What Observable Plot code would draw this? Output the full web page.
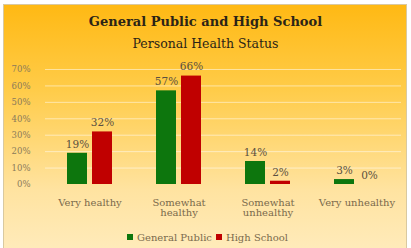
<!DOCTYPE html>
<html><head><meta charset="utf-8">
<script src="https://cdn.jsdelivr.net/npm/d3@7"></script>
<script src="https://cdn.jsdelivr.net/npm/@observablehq/plot@0.6"></script>
<style>
html,body{margin:0;padding:0;background:#fff;}
#wrap{position:relative;width:411px;height:248px;overflow:hidden;font-family:"DejaVu Serif",serif;}
#box{position:absolute;left:3px;top:4px;width:402px;height:246px;border:1px solid #d9c9a0;
 background:linear-gradient(to bottom,#ffb914 0%,#ffcc4a 35%,#ffe3a0 75%,#ffebbb 100%);}
#t1{position:absolute;left:0;width:411px;top:14px;text-align:center;font-weight:bold;font-size:13px;color:#2b2416;}
#t2{position:absolute;left:0;width:411px;top:36px;text-align:center;font-size:12.5px;color:#2b2416;}
#chart{position:absolute;left:0;top:55px;}
#legend{position:absolute;left:0;width:411px;top:232px;text-align:center;font-size:10px;color:#7a6a4c;}
#legend span.sw{display:inline-block;width:6px;height:6px;margin:0 4px 0 4px;vertical-align:1px;}
</style></head>
<body>
<div id="wrap">
 <div id="box"></div>
 <div id="t1">General Public and High School</div>
 <div id="t2">Personal Health Status</div>
 <div id="chart"></div>
 <div id="legend"></div>
</div>
<script>
const categories = ["Very healthy","Somewhat healthy","Somewhat unhealthy","Very unhealthy"];
const tickLabels = ["Very healthy","Somewhat\nhealthy","Somewhat\nunhealthy","Very unhealthy"];
const seriesNames = ["General Public","High School"];
const generalPublic = [0.19,0.57,0.14,0.03];
const highSchool = [0.32,0.66,0.02,0.00];
const seriesColors = ["#0d760d","#c00000"];
const yTicks = [0,0.1,0.2,0.3,0.4,0.5,0.6,0.7];

const data = [];
categories.forEach((c,i)=>{
  data.push({cat:c, series:seriesNames[0], value:generalPublic[i]});
  data.push({cat:c, series:seriesNames[1], value:highSchool[i]});
});

const chart = Plot.plot({
  width: 411, height: 170,
  marginLeft: 44, marginRight: 10, marginTop: 14, marginBottom: 41,
  style: {background:"transparent", fontFamily:"DejaVu Serif, serif", overflow:"visible"},
  fx: {domain: categories, padding: 0, label: null, axis: null},
  x: {domain: seriesNames, paddingInner: 0.216, paddingOuter: 0.86, axis: null},
  y: {domain: [0,0.7], axis: null},
  color: {domain: seriesNames, range: seriesColors},
  marks: [
    Plot.ruleY(yTicks.slice(1), {stroke:"#fff", strokeOpacity:0.5, strokeWidth:1}),
    Plot.barY(data, {fx:"cat", x:"series", y:"value", fill:"series"}),
    Plot.text(data, {fx:"cat", x:"series", y:"value", text: d=>Math.round(d.value*100)+"%", dy:-9,
      fill:"#5a5040", fontSize:10.5}),
    Plot.axisY({ticks: yTicks, tickFormat: d=>Math.round(d*100)+"%", tickSize:0, tickPadding:15,
      fontSize:8.5, fill:"#8a7a5a", label:null}),
    Plot.axisFx({tickFormat: d=>tickLabels[categories.indexOf(d)], tickSize:0, tickPadding:14,
      lineAnchor:"top", fontSize:10, fill:"#7a6a4c", label:null, anchor:"bottom"})
  ]
});
document.getElementById("chart").appendChild(chart);

const lg = document.getElementById("legend");
seriesNames.forEach((s,i)=>{
  const sw = document.createElement("span"); sw.className="sw"; sw.style.background=seriesColors[i];
  lg.appendChild(sw);
  lg.appendChild(document.createTextNode(s));
});
</script>
</body></html>
